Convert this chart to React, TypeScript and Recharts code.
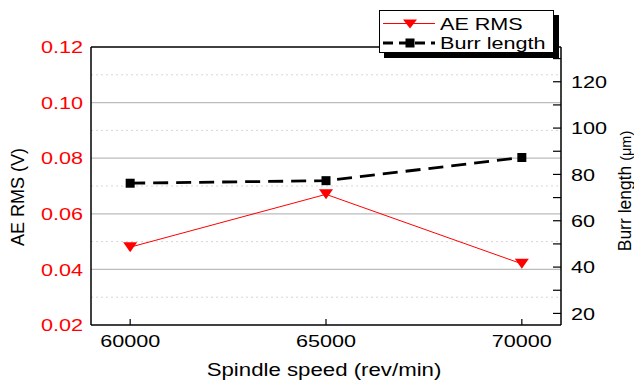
import React from "react";
import {
  ComposedChart,
  Label,
  Legend,
  Line,
  ReferenceLine,
  XAxis,
  YAxis,
} from "recharts";

const speeds = [60000, 65000, 70000];
const aeRms = [0.048, 0.067, 0.042];
const burrLength = [76.2, 77.3, 87.3];

const xTicks = [60000, 65000, 70000];
const aeTicks = [0.02, 0.04, 0.06, 0.08, 0.1, 0.12];
const burrTicks = [20, 30, 40, 50, 60, 70, 80, 90, 100, 110, 120, 130];
const majorGrid = [0.04, 0.06, 0.08, 0.1];
const minorGrid = [0.03, 0.05, 0.07, 0.09, 0.11];

const data = speeds.map((speed, i) => ({
  speed,
  ae: aeRms[i],
  burr: burrLength[i],
}));

const FONT = "'Liberation Sans', Arial, sans-serif";
const STRETCH = 1.27;

const LeftTick = (p: any) => (
  <text
    transform={`translate(${p.x},${p.y}) scale(${STRETCH},1)`}
    textAnchor="end"
    dominantBaseline="central"
    fill="#ff0000"
    fontSize={17}
    fontFamily={FONT}
  >
    {Number(p.payload.value).toFixed(2)}
  </text>
);

const RightTick = (p: any) => {
  const v = p.payload.value;
  const ax = p.x - 10;
  return (
    <g>
      <line x1={ax - 8} x2={ax} y1={p.y} y2={p.y} stroke="#000" strokeWidth={1.2} />
      {v % 20 === 0 && (
        <text
          transform={`translate(${p.x},${p.y}) scale(${STRETCH},1)`}
          dominantBaseline="central"
          fill="#000"
          fontSize={17}
          fontFamily={FONT}
        >
          {v}
        </text>
      )}
    </g>
  );
};

const BottomTick = (p: any) => (
  <g>
    <line x1={p.x} x2={p.x} y1={p.y - 14} y2={p.y - 8} stroke="#000" strokeWidth={1.2} />
    <text
      transform={`translate(${p.x},${p.y + 13.5}) scale(${STRETCH},1)`}
      textAnchor="middle"
      fill="#000"
      fontSize={17}
      fontFamily={FONT}
    >
      {p.payload.value}
    </text>
  </g>
);

const XTitle = ({ viewBox }: any) => (
  <text
    transform={`translate(${viewBox.x + viewBox.width / 2 - 2},${viewBox.y + 50.5}) scale(${STRETCH},1)`}
    textAnchor="middle"
    fill="#000"
    fontSize={17.5}
    fontFamily={FONT}
  >
    Spindle speed (rev/min)
  </text>
);

const LeftTitle = ({ viewBox }: any) => (
  <text
    transform={`translate(${viewBox.x + 24},${viewBox.y + viewBox.height / 2 + 11}) rotate(-90)`}
    textAnchor="middle"
    fill="#000"
    fontSize={18}
    fontFamily={FONT}
  >
    AE RMS (V)
  </text>
);

const RightTitle = ({ viewBox }: any) => (
  <text
    transform={`translate(${viewBox.x + 70},${viewBox.y + viewBox.height / 2 + 5}) rotate(-90)`}
    textAnchor="middle"
    fill="#000"
    fontSize={17.5}
    fontFamily={FONT}
  >
    Burr length <tspan fontSize={14.5}>(μm)</tspan>
  </text>
);

const TriangleDot = (p: any) => {
  const { cx, cy } = p;
  if (cx == null || cy == null) return null;
  return (
    <path
      key={`t-${p.index}`}
      d={`M${cx - 7},${cy - 5}L${cx + 7},${cy - 5}L${cx},${cy + 5}Z`}
      fill="#ff0000"
    />
  );
};

const SquareDot = (p: any) => {
  const { cx, cy } = p;
  if (cx == null || cy == null) return null;
  return <rect key={`s-${p.index}`} x={cx - 4.5} y={cy - 4.5} width={9} height={9} fill="#000" />;
};

const LegendBox = (props: any) => {
  const items = props.payload || [];
  return (
    <div
      style={{
        width: 175,
        height: 43,
        boxSizing: "border-box",
        border: "1px solid #000",
        background: "#fff",
        boxShadow: "5px 5px 0 #000",
      }}
    >
      <svg width={173} height={41} style={{ display: "block" }}>
        {items.map((it: any, i: number) => {
          const y = i === 0 ? 12.5 : 32;
          const isAe = it.dataKey === "ae";
          return (
            <g key={it.value}>
              <line
                x1={3}
                x2={55}
                y1={y}
                y2={y}
                stroke={it.color}
                strokeWidth={isAe ? 1 : 2.8}
                strokeDasharray={isAe ? undefined : "10 6"}
              />
              {isAe ? (
                <path d={`M${23},${y - 4}L${37},${y - 4}L${30},${y + 5}Z`} fill="#ff0000" />
              ) : (
                <rect x={25.5} y={y - 4.5} width={9} height={9} fill="#000" />
              )}
              <text
                transform={`translate(60,${y + 6}) scale(${STRETCH},1)`}
                fill="#000"
                fontSize={17}
                fontFamily={FONT}
              >
                {it.value}
              </text>
            </g>
          );
        })}
      </svg>
    </div>
  );
};

export default function App() {
  return (
    <div style={{ position: "absolute", left: 0, top: 0, width: 634, height: 386, background: "#fff" }}>
      <ComposedChart
        width={634}
        height={386}
        data={data}
        margin={{ top: 47, right: 0, bottom: 0, left: 0 }}
      >
        {minorGrid.map((v) => (
          <ReferenceLine
            key={`mi-${v}`}
            yAxisId="left"
            y={v}
            stroke="#d6d6d6"
            strokeDasharray="2 3"
          />
        ))}
        {majorGrid.map((v) => (
          <ReferenceLine key={`ma-${v}`} yAxisId="left" y={v} stroke="#bcbcbc" strokeWidth={1.2} />
        ))}
        <ReferenceLine yAxisId="left" y={0.12} stroke="#000" strokeWidth={1.5} />
        <XAxis
          dataKey="speed"
          type="number"
          domain={[59000, 71000]}
          ticks={xTicks}
          interval={0}
          height={61}
          tickLine={false}
          tick={<BottomTick />}
          axisLine={{ stroke: "#000", strokeWidth: 1.5 }}
          allowDataOverflow
        >
          <Label content={<XTitle />} />
        </XAxis>
        <YAxis
          yAxisId="left"
          type="number"
          domain={[0.02, 0.12]}
          ticks={aeTicks}
          interval={0}
          width={91}
          tickLine={false}
          tick={<LeftTick />}
          axisLine={{ stroke: "#000", strokeWidth: 1.5 }}
          allowDataOverflow
        >
          <Label content={<LeftTitle />} />
        </YAxis>
        <YAxis
          yAxisId="right"
          orientation="right"
          type="number"
          domain={[15, 135]}
          ticks={burrTicks}
          interval={0}
          width={73}
          tickMargin={4}
          tickLine={false}
          tick={<RightTick />}
          axisLine={{ stroke: "#000", strokeWidth: 1.5 }}
          allowDataOverflow
        >
          <Label content={<RightTitle />} />
        </YAxis>
        <Line
          yAxisId="left"
          dataKey="ae"
          name="AE RMS"
          stroke="#ff0000"
          strokeWidth={1}
          dot={TriangleDot}
          activeDot={false}
          isAnimationActive={false}
        />
        <Line
          yAxisId="right"
          dataKey="burr"
          name="Burr length"
          stroke="#000"
          strokeWidth={2.8}
          strokeDasharray="15 8"
          dot={SquareDot}
          activeDot={false}
          isAnimationActive={false}
        />
        <Legend
          layout="horizontal"
          verticalAlign="middle"
          align="center"
          content={<LegendBox />}
          wrapperStyle={{ left: 379, top: 10, width: 175, height: 43 }}
        />
      </ComposedChart>
    </div>
  );
}
